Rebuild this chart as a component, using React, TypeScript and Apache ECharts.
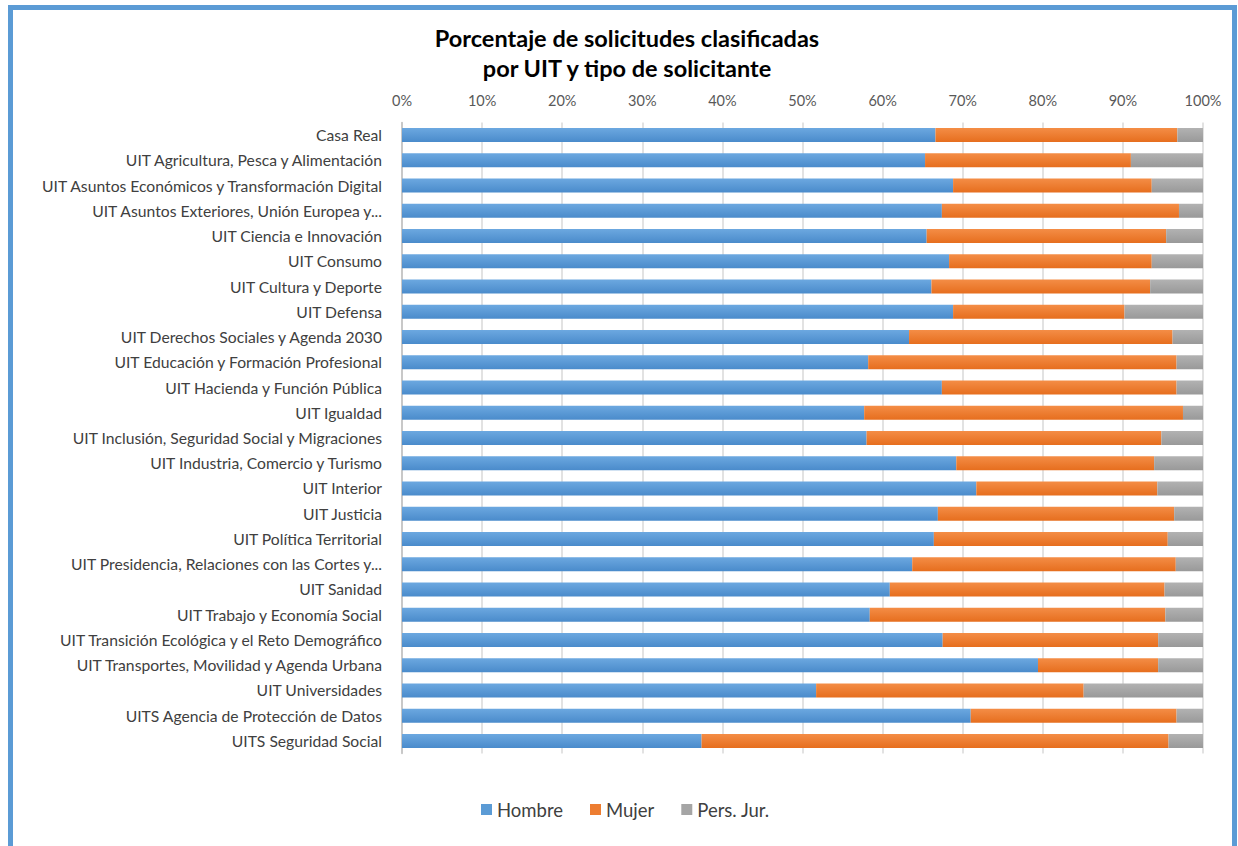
import React, { useEffect, useRef } from "react";
import * as echarts from "echarts";

const categories = [
  "Casa Real",
  "UIT Agricultura, Pesca y Alimentación",
  "UIT Asuntos Económicos y Transformación Digital",
  "UIT Asuntos Exteriores, Unión Europea y...",
  "UIT Ciencia e Innovación",
  "UIT Consumo",
  "UIT Cultura y Deporte",
  "UIT Defensa",
  "UIT Derechos Sociales y Agenda 2030",
  "UIT Educación y Formación Profesional",
  "UIT Hacienda y Función Pública",
  "UIT Igualdad",
  "UIT Inclusión, Seguridad Social y Migraciones",
  "UIT Industria, Comercio y Turismo",
  "UIT Interior",
  "UIT Justicia",
  "UIT Política Territorial",
  "UIT Presidencia, Relaciones con las Cortes y...",
  "UIT Sanidad",
  "UIT Trabajo y Economía Social",
  "UIT Transición Ecológica y el Reto Demográfico",
  "UIT Transportes, Movilidad y Agenda Urbana",
  "UIT Universidades",
  "UITS Agencia de Protección de Datos",
  "UITS Seguridad Social",
];

const hombre = [66.6, 65.3, 68.8, 67.4, 65.5, 68.3, 66.1, 68.8, 63.3, 58.2, 67.4, 57.7, 58.0, 69.2, 71.7, 66.9, 66.4, 63.7, 60.9, 58.4, 67.5, 79.4, 51.7, 71.0, 37.4];
const mujer = [30.2, 25.7, 24.8, 29.6, 29.9, 25.3, 27.3, 21.4, 32.9, 38.5, 29.3, 39.8, 36.8, 24.7, 22.6, 29.5, 29.2, 32.9, 34.3, 36.9, 26.9, 15.0, 33.4, 25.7, 58.3];
const persJur = [3.2, 9.0, 6.4, 3.0, 4.6, 6.4, 6.6, 9.8, 3.8, 3.3, 3.3, 2.5, 5.2, 6.1, 5.7, 3.6, 4.4, 3.4, 4.8, 4.7, 5.6, 5.6, 14.9, 3.3, 4.3];

const xTicks = [0, 10, 20, 30, 40, 50, 60, 70, 80, 90, 100];

const FONT = "Lato, 'Open Sans', sans-serif";

function grad(top: string, bottom: string) {
  return new echarts.graphic.LinearGradient(0, 0, 0, 1, [
    { offset: 0, color: top },
    { offset: 1, color: bottom },
  ]);
}

export default function App() {
  const ref = useRef<HTMLDivElement>(null);
  useEffect(() => {
    if (!ref.current) return;
    const chart = echarts.init(ref.current, null, { renderer: "svg" });
    const seriesDefs = [
      { name: "Hombre", data: hombre, color: "#5B9BD5", top: "#6CA8E0", bottom: "#4A8BCB" },
      { name: "Mujer", data: mujer, color: "#ED7D31", top: "#F48D46", bottom: "#E66E1E" },
      { name: "Pers. Jur.", data: persJur, color: "#A5A5A5", top: "#B2B2B2", bottom: "#999999" },
    ];
    chart.setOption({
      animation: false,
      backgroundColor: "#ffffff",
      title: {
        text: "Porcentaje de solicitudes clasificadas\npor UIT y tipo de solicitante",
        left: 622,
        textAlign: "center",
        top: 18,
        textStyle: {
          fontFamily: FONT,
          fontSize: 23.5,
          fontWeight: "bold",
          lineHeight: 30,
          color: "#000000",
        },
      },
      legend: {
        left: 476,
        top: 795,
        itemWidth: 11,
        itemHeight: 11,
        itemGap: 27,
        icon: "rect",
        textStyle: { fontFamily: FONT, fontSize: 18.5, color: "#404040" },
        data: seriesDefs.map((s) => ({ name: s.name, itemStyle: { color: s.color } })),
      },
      graphic: [
        {
          type: "rect",
          shape: { x: 10.5, y: 7.5, width: 1224, height: 845 },
          style: { fill: "none", stroke: "#5B9BD5", lineWidth: 5 },
          silent: true,
        },
      ],
      grid: { left: 402, right: 35, top: 122.4, bottom: 92.4, containLabel: false },
      xAxis: {
        type: "value",
        position: "top",
        min: 0,
        max: 100,
        interval: 10,
        axisLine: { show: false },
        axisTick: { show: false },
        axisLabel: {
          formatter: (v: number) => (xTicks.includes(v) ? v + "%" : ""),
          fontFamily: FONT,
          fontSize: 14.5,
          color: "#595959",
          margin: 14,
        },
        splitLine: { show: true, lineStyle: { color: "#D9D9D9", width: 1.5 } },
      },
      yAxis: {
        type: "category",
        inverse: true,
        data: categories,
        axisLine: { show: true, lineStyle: { color: "#BFBFBF", width: 1.5 } },
        axisTick: { show: false },
        axisLabel: {
          fontFamily: FONT,
          fontSize: 15.7,
          color: "#404040",
          margin: 20,
        },
      },
      series: seriesDefs.map((s) => ({
        name: s.name,
        type: "bar",
        stack: "total",
        barWidth: 14,
        data: s.data,
        itemStyle: { color: grad(s.top, s.bottom) },
      })),
    });
    return () => chart.dispose();
  }, []);
  return (
    <div
      ref={ref}
      style={{ position: "absolute", left: 0, top: 0, width: 1238, height: 846 }}
    />
  );
}
